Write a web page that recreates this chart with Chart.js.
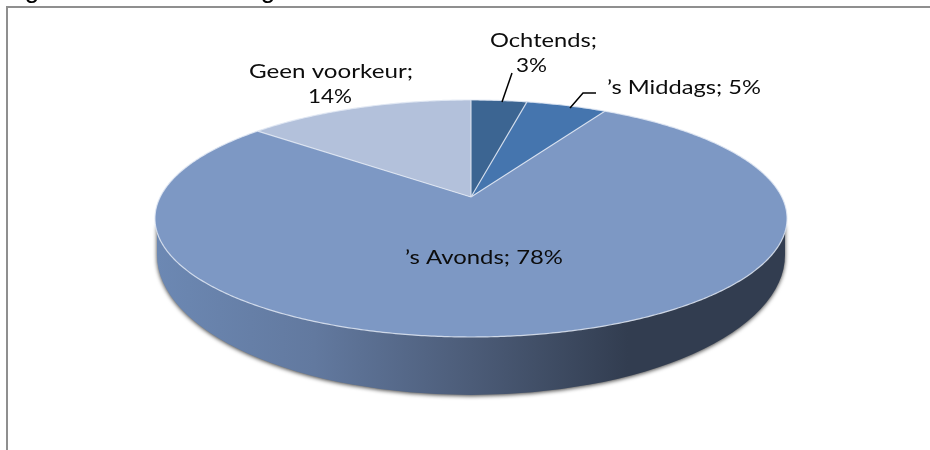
<!DOCTYPE html>
<html>
<head>
<meta charset="utf-8">
<style>html,body{margin:0;padding:0;background:#fff;overflow:hidden}canvas{display:block}</style>
<script src="https://cdn.jsdelivr.net/npm/chart.js@4"></script>
</head>
<body>
<canvas id="c" width="930" height="450"></canvas>
<script>
const categories = ["Ochtends", "\u2019s Middags", "\u2019s Avonds", "Geen voorkeur"];
const values = [3.4, 4.9, 77.8, 13.9];
const sliceColors = ["#3c6592", "#4575ae", "#7d98c4", "#b3c1db"];

const FONT = '19px Lato';
// label layout: [line-centre x, y, drawn width] per text line
const labelLayout = [
  {lines: 2, at: [[543.5, 41, 107], [531.5, 66, 31]]},
  {lines: 1, at: [[684, 88, 154]]},
  {lines: 1, at: [[484, 258, 158]]},
  {lines: 2, at: [[331, 72, 164], [330, 97, 44]]}
];
const leaders = [
  [[512, 73], [502, 102]],
  [[596, 93], [583, 93], [570, 108]]
];

// perspective view of the pie's top face
const view = {cx: 471, cy: 197, A: 310.8, p: 114.6, c: -0.1814};
function project(a) {
  const u = Math.cos(a), v = Math.sin(a), w = 1 + view.c * v;
  return [view.cx + view.A * u / w, view.cy + view.p * v / w];
}
function labelLines(i, pct) {
  const name = categories[i] + ";";
  const p = pct + "%";
  return labelLayout[i].lines === 2 ? [name, p] : [name + " " + p];
}

const pie3d = {
  id: "pie3d",
  beforeDraw(chart) {
    const g = chart.ctx;
    g.save();
    g.fillStyle = "#fff";
    g.fillRect(0, 0, chart.width, chart.height);
    g.strokeStyle = "#8f8f8f";
    g.lineWidth = 2;
    g.beginPath();
    g.moveTo(7, 450); g.lineTo(7, 7); g.lineTo(930, 7);
    g.stroke();
    g.fillStyle = "#000";
    g.font = '26px "Liberation Sans"';
    g.textBaseline = "alphabetic";
    g.textAlign = "center";
    g.fillText("g", 32, -2.5);
    g.fillText("g", 268, -2.5);
    g.restore();
  },
  beforeDatasetDraw(chart, args) {
    const g = chart.ctx;
    const arcs = chart.getDatasetMeta(args.index).data;
    g.save();
    // side wall
    const grad = g.createLinearGradient(157, 0, 785, 0);
    grad.addColorStop(0, "#6c88b3");
    grad.addColorStop(0.25, "#62799f");
    grad.addColorStop(0.5, "#4c5c78");
    grad.addColorStop(0.75, "#323d50");
    grad.addColorStop(1, "#323d50");
    g.save();
    g.shadowColor = "rgba(0,0,0,0.75)";
    g.shadowBlur = 4;
    g.shadowOffsetY = 1;
    g.fillStyle = grad;
    g.beginPath();
    g.moveTo(157, 225);
    g.lineTo(157, 255);
    g.ellipse(471, 255, 314, 140, 0, Math.PI, 0, true);
    g.lineTo(785, 225);
    g.closePath();
    g.fill();
    g.restore();
    // top face: one wedge per library arc
    const step = Math.PI / 360;
    arcs.forEach((arc, i) => {
      g.beginPath();
      g.moveTo(view.cx, view.cy);
      for (let a = arc.startAngle; a < arc.endAngle; a += step) {
        const q = project(a);
        g.lineTo(q[0], q[1]);
      }
      const e = project(arc.endAngle);
      g.lineTo(e[0], e[1]);
      g.closePath();
      g.fillStyle = arc.options.backgroundColor;
      g.fill();
    });
    // thin light edges
    g.strokeStyle = "rgba(225,232,243,0.85)";
    g.lineWidth = 1.2;
    g.beginPath();
    arcs.forEach(arc => {
      const s = project(arc.startAngle);
      g.moveTo(view.cx, view.cy);
      g.lineTo(s[0], s[1]);
    });
    for (let k = 0; k <= 720; k++) {
      const q = project(k * step);
      if (k === 0) g.moveTo(q[0], q[1]); else g.lineTo(q[0], q[1]);
    }
    g.stroke();
    g.restore();
    return false;
  },
  afterDraw(chart) {
    const g = chart.ctx;
    g.save();
    g.strokeStyle = "#000";
    g.lineWidth = 1.5;
    leaders.forEach(pts => {
      g.beginPath();
      pts.forEach((q, k) => k ? g.lineTo(q[0], q[1]) : g.moveTo(q[0], q[1]));
      g.stroke();
    });
    g.fillStyle = "#0c0c0c";
    g.font = FONT;
    g.textAlign = "center";
    g.textBaseline = "middle";
    values.forEach((v, i) => {
      labelLines(i, Math.round(v)).forEach((t, k) => {
        const at = labelLayout[i].at[k];
        g.save();
        g.translate(at[0], at[1]);
        g.scale(at[2] / g.measureText(t).width, 1);
        g.fillText(t, 0, 0);
        g.restore();
      });
    });
    g.restore();
  }
};

new Chart(document.getElementById("c"), {
  type: "pie",
  data: {labels: categories, datasets: [{data: values, backgroundColor: sliceColors, borderWidth: 0}]},
  options: {
    responsive: false,
    animation: false,
    plugins: {legend: {display: false}, tooltip: {enabled: false}}
  },
  plugins: [pie3d]
});
</script>
</body>
</html>
